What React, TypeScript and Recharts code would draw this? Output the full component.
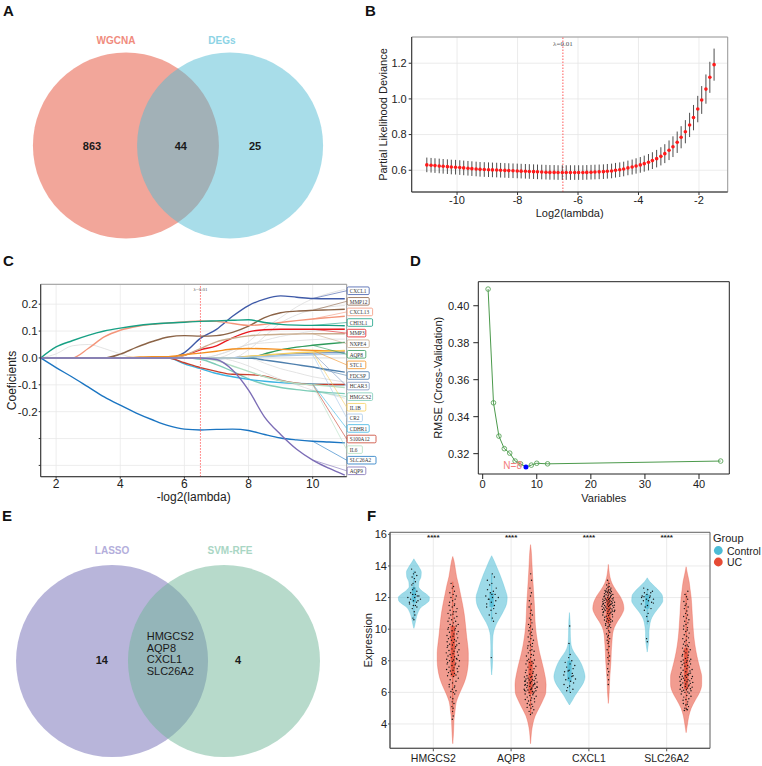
import React from 'react';
import {
  ScatterChart, Scatter, LineChart, Line, ComposedChart, Area,
  XAxis, YAxis, CartesianGrid, ReferenceLine, ReferenceDot, ReferenceArea, ErrorBar,
} from 'recharts';

const FONT = 'Arial, "Liberation Sans", Helvetica, sans-serif';
const SERIF = '"Liberation Serif", "DejaVu Serif", serif';

// ---------- A: WGCNA / DEGs overlap ----------
const vennASets = ['WGCNA', 'DEGs'];
const vennACounts = [863, 44, 25]; // WGCNA only, shared, DEGs only

// ---------- B: LASSO cross-validation ----------
const cvLog2Lambda = [
  -11.0, -10.86, -10.73, -10.59, -10.46, -10.32, -10.19, -10.05, -9.91, -9.78, -9.64, -9.51,
  -9.37, -9.24, -9.1, -8.96, -8.83, -8.69, -8.56, -8.42, -8.29, -8.15, -8.01, -7.88,
  -7.74, -7.61, -7.47, -7.34, -7.2, -7.06, -6.93, -6.79, -6.66, -6.52, -6.39, -6.25,
  -6.11, -5.98, -5.84, -5.71, -5.57, -5.44, -5.3, -5.16, -5.03, -4.89, -4.76, -4.62,
  -4.49, -4.35, -4.21, -4.08, -3.94, -3.81, -3.67, -3.54, -3.4, -3.26, -3.13, -2.99,
  -2.86, -2.72, -2.59, -2.45, -2.31, -2.18, -2.04, -1.91, -1.77, -1.64, -1.5,
];
const cvDeviance = [
  0.63, 0.628, 0.626, 0.624, 0.622, 0.62, 0.618, 0.617, 0.615, 0.613, 0.611, 0.609,
  0.607, 0.605, 0.604, 0.603, 0.602, 0.601, 0.6, 0.599, 0.598, 0.597, 0.596, 0.595,
  0.594, 0.593, 0.592, 0.591, 0.59, 0.589, 0.588, 0.588, 0.587, 0.587, 0.587, 0.587,
  0.587, 0.587, 0.587, 0.588, 0.589, 0.59, 0.591, 0.592, 0.594, 0.596, 0.6, 0.603,
  0.607, 0.613, 0.618, 0.624, 0.63, 0.637, 0.645, 0.654, 0.665, 0.678, 0.693, 0.712,
  0.732, 0.757, 0.785, 0.816, 0.854, 0.895, 0.943, 0.994, 1.055, 1.121, 1.192,
];
const cvDevianceSd = [
  0.041, 0.041, 0.041, 0.041, 0.041, 0.041, 0.041, 0.041, 0.041, 0.041, 0.041, 0.041,
  0.041, 0.041, 0.041, 0.041, 0.041, 0.041, 0.041, 0.041, 0.041, 0.041, 0.041, 0.041,
  0.041, 0.041, 0.041, 0.041, 0.041, 0.041, 0.041, 0.041, 0.041, 0.041, 0.041, 0.041,
  0.041, 0.041, 0.041, 0.041, 0.041, 0.041, 0.041, 0.041, 0.041, 0.041, 0.041, 0.041,
  0.041, 0.041, 0.042, 0.043, 0.044, 0.045, 0.046, 0.047, 0.049, 0.051, 0.053, 0.055,
  0.058, 0.06, 0.062, 0.065, 0.068, 0.071, 0.074, 0.078, 0.082, 0.087, 0.09,
];

// ---------- C: LASSO coefficient paths ----------
const pathX = [1.52, 2, 2.5, 3, 3.5, 4, 4.5, 5, 5.5, 6, 6.5, 7, 7.5, 8, 8.5, 9, 9.5, 10, 10.5, 11];
const pathGenes = ['CXCL1', 'MMP12', 'CXCL13', 'CHI3L1', 'MMP3', 'NXPE4', 'AQP8', 'STC1', 'FDCSP',
  'HCAR3', 'HMGCS2', 'IL1B', 'CR2', 'CDHR1', 'S100A12', 'IL6', 'SLC26A2', 'AQP9'];
const coefCXCL1 = [0, 0, 0, 0, 0, 0, 0, 0, 0, 0.02, 0.073, 0.106, 0.155, 0.195, 0.219, 0.231, 0.226, 0.221, 0.22, 0.22];
const coefMMP12 = [0, 0, 0, 0, 0, 0.014, 0.039, 0.061, 0.078, 0.083, 0.081, 0.083, 0.095, 0.118, 0.15, 0.168, 0.174, 0.177, 0.179, 0.181];
const coefCXCL13 = [0, 0, 0, 0.035, 0.078, 0.103, 0.117, 0.125, 0.13, 0.134, 0.138, 0.136, 0.128, 0.121, 0.125, 0.132, 0.139, 0.145, 0.15, 0.155];
const coefCHI3L1 = [0, 0.041, 0.064, 0.084, 0.1, 0.111, 0.12, 0.126, 0.13, 0.133, 0.136, 0.138, 0.14, 0.142, 0.132, 0.125, 0.122, 0.121, 0.121, 0.12];
const coefMMP3 = [0, 0, 0, 0, 0, 0, 0, 0, 0, 0.01, 0.03, 0.045, 0.075, 0.097, 0.105, 0.107, 0.107, 0.107, 0.107, 0.107];
const coefNXPE4 = [0, 0, 0, 0, 0, 0, 0, 0, 0, 0.01, 0.035, 0.06, 0.073, 0.082, 0.086, 0.088, 0.089, 0.09, 0.09, 0.09];
const coefAQP8 = [0, 0, 0, 0, 0, 0, 0, 0, 0, 0, 0, 0, 0, 0, 0.015, 0.03, 0.04, 0.047, 0.053, 0.058];
const coefSTC1 = [0, 0, 0, 0, 0, 0, 0.003, 0.005, 0.005, 0.012, 0.018, 0.025, 0.033, 0.035, 0.034, 0.032, 0.03, 0.028, 0.027, 0.026];
const coefFDCSP = [0, 0, 0, 0, 0, 0, 0, 0, 0, 0, 0, 0, 0, 0, -0.008, -0.016, -0.025, -0.034, -0.044, -0.053];
const coefHCAR3 = [0, 0, 0, 0, 0, 0, 0, 0, 0, 0, -0.002, -0.003, 0, 0.005, 0.01, 0.013, 0.016, 0.018, 0.02, 0.02];
const coefHMGCS2 = [0, 0, 0, 0, 0, 0, 0, 0, 0, 0, -0.005, -0.025, -0.05, -0.078, -0.098, -0.11, -0.118, -0.124, -0.129, -0.133];
const coefIL1B = [0, 0, 0, 0, 0, 0, 0, 0, 0, 0, 0, 0, 0, 0.006, 0.01, 0.015, 0.019, 0.022, 0.025, 0.028];
const coefCR2 = [0, 0, 0, 0, 0, 0, 0, 0, 0, 0, 0, 0, 0, 0.003, 0.005, 0.008, 0.01, 0.012, 0.014, 0.015];
const coefCDHR1 = [0, 0, 0, 0, 0, 0, 0, 0, 0, -0.022, -0.04, -0.058, -0.07, -0.08, -0.087, -0.092, -0.095, -0.097, -0.099, -0.1];
const coefS100A12 = [0, 0, 0, 0, 0, 0, 0, 0, 0, -0.018, -0.036, -0.05, -0.061, -0.062, -0.068, -0.084, -0.094, -0.099, -0.099, -0.099];
const coefIL6 = [0, 0, 0, 0, 0, 0, 0, 0, 0, 0, 0, -0.01, -0.03, -0.05, -0.07, -0.085, -0.095, -0.1, -0.105, -0.11];
const coefSLC26A2 = [0, -0.036, -0.071, -0.108, -0.145, -0.176, -0.205, -0.23, -0.252, -0.265, -0.268, -0.266, -0.265, -0.27, -0.285, -0.298, -0.305, -0.31, -0.313, -0.316];
const coefAQP9 = [0, 0, 0, 0, 0, 0, 0, 0, 0, 0, 0, -0.006, -0.045, -0.12, -0.22, -0.285, -0.34, -0.38, -0.41, -0.436];
// genes without a tag
const coefOther1 = [0, 0.015, 0.045, 0.05, 0.035, 0.015, 0, 0, 0, 0, 0, 0, 0, 0, 0, 0, 0, 0, 0, 0];
const coefOther2 = [0, 0, 0, 0, 0, 0, 0, 0, 0, 0, 0, 0, 0.02, 0.06, 0.11, 0.15, 0.19, 0.22, 0.24, 0.255];
const coefOther3 = [0, 0, 0, 0, 0, 0, 0, 0, 0, 0, 0, 0, 0, 0.03, 0.08, 0.13, 0.16, 0.18, 0.19, 0.195];
const coefOther4 = [0, 0, 0, 0, 0, 0, 0, 0, 0, 0, 0, 0.01, 0.03, 0.05, 0.056, 0.06, 0.064, 0.068, 0.07, 0.07];
const coefOther5 = [0, 0, 0, 0, 0, 0, 0, 0, 0, 0, 0, 0, -0.01, -0.03, -0.055, -0.08, -0.1, -0.12, -0.135, -0.15];
const coefOther6 = [0, 0, 0, 0, 0, 0, 0, 0, 0, 0, 0, 0, 0, 0, -0.02, -0.04, -0.055, -0.07, -0.08, -0.09];
const coefOther7 = [0, 0, 0, 0, 0, 0, 0, 0, 0, 0, 0, 0.01, 0.03, 0.05, 0.065, 0.08, 0.09, 0.1, 0.105, 0.11];

// ---------- D: SVM-RFE ----------
const rfeVariables = [1, 2, 3, 4, 5, 6, 7, 8, 9, 10, 12, 44];
const rfeRmse = [0.409, 0.3475, 0.3295, 0.3227, 0.3203, 0.316, 0.3145, 0.3128, 0.3138, 0.3148, 0.3145, 0.316];
const rfeBest = 8;

// ---------- E: LASSO / SVM-RFE overlap ----------
const vennESets = ['LASSO', 'SVM-RFE'];
const vennECounts = [14, 4];
const vennEShared = ['HMGCS2', 'AQP8', 'CXCL1', 'SLC26A2'];

// ---------- F: expression of the four hub genes ----------
const hubGenes = ['HMGCS2', 'AQP8', 'CXCL1', 'SLC26A2'];
const groups = ['Control', 'UC'];
// [expression, density]
const violinHMGCS2Ctrl = [[14.45, 0], [14.2, 7], [13.9, 16], [13.6, 22], [13.3, 21], [13.0, 15], [12.7, 14], [12.4, 25], [12.2, 38], [12.0, 46], [11.8, 45], [11.6, 35], [11.4, 22], [11.1, 13], [10.8, 8], [10.5, 5], [10.2, 2], [10.05, 0]];
const violinHMGCS2UC = [[14.6, 0], [14.3, 4], [13.8, 8], [13.3, 12], [12.8, 18], [12.2, 24], [11.6, 30], [11.0, 35], [10.5, 38], [10.1, 40], [9.5, 43], [9.0, 46], [8.5, 48], [8.0, 48], [7.5, 46], [6.9, 40], [6.4, 31], [5.9, 20], [5.4, 11], [4.8, 7], [4.3, 4], [3.8, 3], [3.3, 2], [2.75, 0]];
const violinAQP8Ctrl = [[14.65, 0], [14.3, 8], [13.9, 16], [13.5, 24], [13.0, 33], [12.5, 41], [12.0, 47], [11.6, 45], [11.2, 37], [10.8, 27], [10.4, 16], [10.0, 8], [9.6, 4], [9.2, 3], [8.8, 2.5], [8.2, 3], [7.6, 2], [7.1, 0]];
const violinAQP8UC = [[15.35, 0], [15.0, 2], [14.3, 4], [13.5, 6], [12.5, 9], [11.5, 12], [10.5, 14], [10.0, 16], [9.5, 19], [9.0, 23], [8.5, 28], [8.0, 34], [7.5, 40], [7.0, 45], [6.5, 48], [6.0, 47], [5.5, 38], [5.0, 26], [4.5, 14], [4.0, 7], [3.5, 3], [3.0, 1], [2.75, 0]];
const violinCXCL1Ctrl = [[11.05, 0], [10.5, 2], [10.0, 2.5], [9.5, 3], [9.0, 5], [8.6, 12], [8.2, 25], [7.8, 36], [7.4, 43], [7.0, 47], [6.6, 42], [6.2, 30], [5.8, 17], [5.5, 9], [5.2, 0]];
const violinCXCL1UC = [[14.1, 0], [13.7, 2], [13.3, 5], [12.9, 11], [12.5, 22], [12.1, 35], [11.7, 44], [11.3, 47], [10.9, 40], [10.5, 28], [10.1, 18], [9.7, 13], [9.2, 11], [8.6, 9], [8.0, 8], [7.4, 6], [6.8, 4], [6.2, 3], [5.7, 1.5], [5.3, 0]];
const violinSLC26A2Ctrl = [[13.25, 0], [13.0, 8], [12.7, 22], [12.4, 36], [12.1, 45], [11.8, 46], [11.5, 39], [11.2, 28], [10.9, 18], [10.6, 11], [10.2, 7], [9.8, 5], [9.4, 5], [9.0, 3], [8.55, 0]];
const violinSLC26A2UC = [[13.95, 0], [13.5, 4], [13.0, 9], [12.5, 12], [12.0, 15], [11.0, 18], [10.0, 21], [9.5, 23], [9.0, 26], [8.5, 30], [8.0, 35], [7.5, 41], [7.0, 46], [6.5, 46], [6.0, 40], [5.5, 27], [5.0, 15], [4.5, 8], [4.0, 4], [3.45, 0]];
// [q1, q3, lower whisker, upper whisker]
const boxCtrl = [[11.7, 12.65, 10.6, 13.7], [11.4, 12.3, 10.5, 13.5], [6.7, 8.0, 6.0, 9.1], [11.3, 12.2, 10.3, 12.6]];
const boxUC = [[7.0, 10.2, 4.6, 13.0], [5.9, 8.0, 4.6, 11.6], [10.4, 12.0, 8.0, 13.1], [6.2, 8.8, 4.8, 12.3]];
// sample expression values
const samplesHMGCS2Ctrl = [13.8, 13.6, 13.5, 13.4, 13.3, 13.2, 13.0, 12.8, 12.6, 12.5, 12.4, 12.3, 12.2, 12.2, 12.1, 12.0, 12.0, 11.9, 11.9, 11.8, 11.8, 11.7, 11.7, 11.6, 11.5, 11.5, 11.4, 11.3, 11.1, 10.9, 10.7, 10.6, 12.9, 12.1];
const samplesHMGCS2UC = [12.9, 12.7, 12.6, 12.4, 12.3, 12.2, 12.1, 12.0, 11.9, 11.8, 11.7, 11.6, 11.5, 11.5, 11.4, 11.3, 11.2, 11.1, 11.1, 11.0,
  10.95, 10.9, 10.8, 10.7, 10.7, 10.6, 10.5, 10.5, 10.4, 10.3, 10.3, 10.2, 10.2, 10.1, 10.05, 10.0,
  9.95, 9.9, 9.85, 9.8, 9.7, 9.7, 9.6, 9.55, 9.5, 9.45, 9.4, 9.35, 9.3, 9.25, 9.2, 9.15, 9.1, 9.05, 9.0, 9.0,
  8.95, 8.9, 8.85, 8.8, 8.75, 8.7, 8.65, 8.6, 8.55, 8.5, 8.45, 8.4, 8.35, 8.3, 8.25, 8.2, 8.15, 8.1, 8.05, 8.0, 8.0, 8.1,
  7.95, 7.9, 7.85, 7.8, 7.75, 7.7, 7.65, 7.6, 7.55, 7.5, 7.45, 7.4, 7.35, 7.3, 7.25, 7.2, 7.15, 7.1, 7.05, 7.0,
  6.9, 6.8, 6.7, 6.6, 6.5, 6.4, 6.35, 6.3, 6.2, 6.1, 6.05, 6.0, 5.9, 5.7, 5.6, 5.4, 5.3, 5.1, 5.0, 4.8, 4.5, 4.3];
const samplesAQP8Ctrl = [13.5, 13.3, 13.1, 12.9, 12.8, 12.6, 12.5, 12.4, 12.3, 12.2, 12.1, 12.0, 12.0, 11.9, 11.8, 11.7, 11.6, 11.5, 11.4, 11.3, 11.2, 11.0, 10.9, 10.7, 10.5, 8.2, 12.2, 11.9];
const samplesAQP8UC = [13.5, 13.1, 12.6, 12.3, 12.1, 11.8, 11.6, 11.4, 11.2, 11.0, 10.9, 10.7, 10.6, 10.4, 10.3, 10.2, 10.1, 10.0,
  9.9, 9.8, 9.7, 9.6, 9.5, 9.4, 9.3, 9.2, 9.1, 9.0, 8.95, 8.9, 8.8, 8.7, 8.65, 8.6, 8.5, 8.4, 8.35, 8.3, 8.2, 8.1, 8.05, 8.0,
  7.95, 7.9, 7.85, 7.8, 7.7, 7.65, 7.6, 7.5, 7.45, 7.4, 7.3, 7.25, 7.2, 7.15, 7.1, 7.05, 7.0, 7.0,
  6.98, 6.95, 6.9, 6.88, 6.85, 6.8, 6.78, 6.75, 6.7, 6.68, 6.65, 6.6, 6.58, 6.55, 6.5, 6.48, 6.45, 6.4, 6.38, 6.35,
  6.3, 6.28, 6.25, 6.2, 6.18, 6.15, 6.1, 6.08, 6.05, 6.0, 6.02, 6.12, 6.22, 6.32, 6.42, 6.52, 6.62, 6.72,
  5.95, 5.9, 5.85, 5.8, 5.75, 5.7, 5.65, 5.6, 5.55, 5.5, 5.45, 5.4, 5.3, 5.25, 5.2, 5.1, 5.05, 5.0, 4.9, 4.8, 4.7, 4.6];
const samplesCXCL1Ctrl = [10.2, 9.1, 8.4, 8.2, 8.0, 7.9, 7.8, 7.7, 7.6, 7.5, 7.4, 7.3, 7.2, 7.1, 7.0, 6.9, 6.85, 6.8, 6.7, 6.6, 6.5, 6.4, 6.3, 6.2, 6.1, 6.0, 7.35, 7.05];
const samplesCXCL1UC = [13.1, 12.9, 12.8, 12.7, 12.65, 12.6, 12.55, 12.5,
  12.48, 12.45, 12.42, 12.4, 12.38, 12.35, 12.32, 12.3, 12.28, 12.25, 12.22, 12.2, 12.18, 12.15, 12.12, 12.1, 12.08, 12.05, 12.02, 12.0,
  11.98, 11.96, 11.94, 11.92, 11.9, 11.88, 11.86, 11.84, 11.82, 11.8, 11.78, 11.76, 11.74, 11.72, 11.7, 11.68, 11.66, 11.64, 11.62, 11.6, 11.58, 11.56, 11.54, 11.52, 11.5, 11.51,
  11.48, 11.45, 11.43, 11.4, 11.38, 11.35, 11.33, 11.3, 11.28, 11.25, 11.23, 11.2, 11.18, 11.15, 11.13, 11.1, 11.08, 11.05, 11.03, 11.0, 11.12, 11.27,
  10.97, 10.93, 10.9, 10.86, 10.82, 10.78, 10.75, 10.7, 10.66, 10.62, 10.58, 10.55, 10.52, 10.5,
  10.45, 10.4, 10.35, 10.3, 10.25, 10.2, 10.15, 10.1, 10.05, 9.9, 9.8, 9.7, 9.6, 9.5, 9.4, 9.3, 9.2, 9.1,
  8.9, 8.7, 8.5, 8.3, 8.2, 8.0, 7.8, 7.5, 7.3, 7.1, 6.8, 6.5];
const samplesSLC26A2Ctrl = [12.6, 12.5, 12.4, 12.3, 12.3, 12.2, 12.1, 12.1, 12.0, 12.0, 11.9, 11.9, 11.8, 11.8, 11.7, 11.6, 11.5, 11.4, 11.3, 11.2, 11.0, 10.8, 10.5, 9.4, 9.2, 11.65, 12.05];
const samplesSLC26A2UC = [12.4, 12.2, 12.05, 11.9, 11.75, 11.6, 11.5, 11.4, 11.3, 11.15, 11.0,
  10.9, 10.8, 10.7, 10.6, 10.5, 10.4, 10.3, 10.2, 10.1, 10.0,
  9.95, 9.85, 9.75, 9.65, 9.55, 9.45, 9.4, 9.3, 9.2, 9.15, 9.05, 9.0,
  8.95, 8.9, 8.8, 8.75, 8.7, 8.6, 8.55, 8.5, 8.4, 8.35, 8.3, 8.2, 8.15, 8.1, 8.05, 8.0,
  7.98, 7.95, 7.9, 7.85, 7.8, 7.75, 7.7, 7.65, 7.6, 7.55, 7.5, 7.45, 7.4, 7.35, 7.3, 7.25, 7.2, 7.15, 7.1, 7.05, 7.0, 7.02, 7.12, 7.22,
  6.98, 6.95, 6.9, 6.87, 6.83, 6.8, 6.77, 6.73, 6.7, 6.67, 6.63, 6.6, 6.57, 6.53, 6.5, 6.47, 6.43, 6.4, 6.37, 6.33,
  6.3, 6.27, 6.23, 6.2, 6.17, 6.13, 6.1, 6.07, 6.03, 6.0,
  5.95, 5.9, 5.8, 5.75, 5.7, 5.6, 5.55, 5.5, 5.4, 5.3, 5.25, 5.2, 5.1, 5.0, 4.95, 4.9, 4.85];
const significance = ['****', '****', '****', '****'];

// ---------------------------------------------------------------------------

const vTitle = (text: string, dx: number, size = 11) => (props: any) => {
  const vb = props.viewBox || { x: 0, y: 0, width: 0, height: 0 };
  const x = vb.x + dx;
  const y = vb.y + vb.height / 2;
  return (
    <text x={x} y={y} transform={`rotate(-90 ${x} ${y})`} textAnchor="middle" dominantBaseline="central"
      fontSize={size} fontFamily={FONT} fill="#222">{text}</text>
  );
};
const hTitle = (text: string, dy: number, size = 11) => (props: any) => {
  const vb = props.viewBox || { x: 0, y: 0, width: 0, height: 0 };
  return (
    <text x={vb.x + vb.width / 2} y={vb.y + dy} textAnchor="middle" dominantBaseline="central"
      fontSize={size} fontFamily={FONT} fill="#222">{text}</text>
  );
};
const lambdaTag = (size: number, dy: number) => (props: any) => {
  const vb = props.viewBox || { x: 0, y: 0 };
  return (
    <text x={vb.x} y={vb.y + dy} textAnchor="middle" dominantBaseline="central" fontSize={size}
      fontFamily={SERIF} fill="#555">λ=0.01</text>
  );
};
const textShape = (size: number, weight: any, color: string, anchor = 'middle') => (p: any) => (
  <text x={p.cx} y={p.cy} textAnchor={anchor} dominantBaseline="central" fontSize={size}
    fontWeight={weight} fill={p.payload.color || color} fontFamily={FONT}>{p.payload.label}</text>
);

function PanelLetter({ ch, left, top }: { ch: string; left: number; top: number }) {
  return (
    <div style={{ position: 'absolute', left, top: top - 2, fontFamily: FONT, fontWeight: 'bold', fontSize: 15, lineHeight: '15px', color: '#111' }}>{ch}</div>
  );
}

// ---------- Venn diagrams ----------
function VennA() {
  const xd: [number, number] = [-1.914, 2.172];
  const yd: [number, number] = [-1.124, 1.565];
  const w = 380, h = 250;
  const unit = w / (xd[1] - xd[0]);
  const circle = (color: string) => (p: any) => <circle cx={p.cx} cy={p.cy} r={unit} fill={color} fillOpacity={0.5} />;
  const setLabels = vennASets.map((label, i) => ({ x: [-0.667, 0.473][i], y: 1.134, label, color: ['#F08B7D', '#8CD3E5'][i] }));
  const counts = vennACounts.map((v, i) => ({ x: [-0.925, 0.03, 0.828][i], y: 0, label: String(v) }));
  return (
    <ScatterChart width={w} height={h} margin={{ top: 0, right: 0, bottom: 0, left: 0 }}>
      <XAxis type="number" dataKey="x" domain={xd} hide />
      <YAxis type="number" dataKey="y" domain={yd} hide />
      <Scatter data={[{ x: -0.56, y: 0 }]} shape={circle('#E54D35')} isAnimationActive={false} />
      <Scatter data={[{ x: 0.56, y: 0 }]} shape={circle('#51BBD3')} isAnimationActive={false} />
      <Scatter data={setLabels} shape={textShape(10, 'bold', '#000')} isAnimationActive={false} />
      <Scatter data={counts} shape={textShape(11, 'bold', '#1a1a1a')} isAnimationActive={false} />
    </ScatterChart>
  );
}

function VennE() {
  const xd: [number, number] = [-1.75, 2.208];
  const yd: [number, number] = [-1.094, 1.677];
  const w = 380, h = 266;
  const unit = w / (xd[1] - xd[0]);
  const circle = (color: string) => (p: any) => <circle cx={p.cx} cy={p.cy} r={unit} fill={color} fillOpacity={0.5} />;
  const setLabels = vennESets.map((label, i) => ({ x: [-0.583, 0.646][i], y: 1.156, label, color: ['#B3AEDB', '#A9D6C4'][i] }));
  const counts = vennECounts.map((v, i) => ({ x: [-0.69, 0.729][i], y: 0.01, label: String(v) }));
  const shared = vennEShared.map((label, i) => ({ x: -0.222, y: 0.26 - i * 0.12, label }));
  return (
    <ScatterChart width={w} height={h} margin={{ top: 0, right: 0, bottom: 0, left: 0 }}>
      <XAxis type="number" dataKey="x" domain={xd} hide />
      <YAxis type="number" dataKey="y" domain={yd} hide />
      <Scatter data={[{ x: -0.583, y: 0 }]} shape={circle('#716BB5')} isAnimationActive={false} />
      <Scatter data={[{ x: 0.583, y: 0 }]} shape={circle('#6FB597')} isAnimationActive={false} />
      <Scatter data={setLabels} shape={textShape(10, 'bold', '#000')} isAnimationActive={false} />
      <Scatter data={counts} shape={textShape(11, 'bold', '#1a1a1a')} isAnimationActive={false} />
      <Scatter data={shared} shape={textShape(11, 'normal', '#1a1a1a', 'start')} isAnimationActive={false} />
    </ScatterChart>
  );
}

// ---------- B ----------
function PanelB() {
  const rows = cvLog2Lambda.map((x, i) => ({ x, y: cvDeviance[i], sd: cvDevianceSd[i] }));
  const xd: [number, number] = [-11.5, -1.05];
  const yd: [number, number] = [0.478, 1.347];
  return (
    <ScatterChart width={370} height={210} margin={{ top: 17, right: 12.3, bottom: 0, left: 0 }}>
      <CartesianGrid stroke="#e6e6e6" strokeWidth={0.8} />
      <ReferenceArea x1={xd[0]} x2={xd[1]} y1={yd[0]} y2={yd[1]} fill="none" stroke="#9a9a9a" strokeWidth={1} />
      <XAxis type="number" dataKey="x" domain={xd} ticks={[-10, -8, -6, -4, -2]} height={38}
        tick={{ fontSize: 11, fill: '#222', fontFamily: FONT }} tickSize={3} tickMargin={1}
        axisLine={{ stroke: '#333' }} tickLine={{ stroke: '#333' }} label={hTitle('Log2(lambda)', 20.5)} />
      <YAxis type="number" dataKey="y" domain={yd} ticks={[0.6, 0.8, 1.0, 1.2]} width={41.7}
        tickFormatter={(v: number) => v.toFixed(1)} tick={{ fontSize: 11, fill: '#222', fontFamily: FONT }}
        tickSize={3} tickMargin={2} axisLine={{ stroke: '#333' }} tickLine={{ stroke: '#333' }}
        label={vTitle('Partial Likelihood Deviance', 13)} />
      <ReferenceLine x={-6.5} stroke="#ff5a5a" strokeDasharray="1.5 1.5" strokeWidth={1} label={lambdaTag(7, 7)} />
      <Scatter data={rows} isAnimationActive={false}
        shape={(p: any) => <circle cx={p.cx} cy={p.cy} r={1.8} fill="#ff1a1a" />}>
        <ErrorBar dataKey="sd" direction="y" width={0} stroke="#3a3a3a" strokeWidth={0.9} />
      </Scatter>
    </ScatterChart>
  );
}

// ---------- C ----------
const pathSeries: { key: string; values: number[]; color: string }[] = [
  { key: 'CXCL1', values: coefCXCL1, color: '#3F5AA8' },
  { key: 'MMP12', values: coefMMP12, color: '#8B6346' },
  { key: 'CXCL13', values: coefCXCL13, color: '#F4957A' },
  { key: 'CHI3L1', values: coefCHI3L1, color: '#17A084' },
  { key: 'MMP3', values: coefMMP3, color: '#E8191E' },
  { key: 'NXPE4', values: coefNXPE4, color: '#C9AC8E' },
  { key: 'AQP8', values: coefAQP8, color: '#2E9A5A' },
  { key: 'STC1', values: coefSTC1, color: '#F39021' },
  { key: 'FDCSP', values: coefFDCSP, color: '#4E7FAD' },
  { key: 'HCAR3', values: coefHCAR3, color: '#7D97C2' },
  { key: 'HMGCS2', values: coefHMGCS2, color: '#7ECDB8' },
  { key: 'IL1B', values: coefIL1B, color: '#F6CF60' },
  { key: 'CR2', values: coefCR2, color: '#A7C8E8' },
  { key: 'CDHR1', values: coefCDHR1, color: '#3CB4E3' },
  { key: 'S100A12', values: coefS100A12, color: '#C8402E' },
  { key: 'IL6', values: coefIL6, color: '#B3DFC3' },
  { key: 'SLC26A2', values: coefSLC26A2, color: '#1B75C2' },
  { key: 'AQP9', values: coefAQP9, color: '#7C6DB6' },
];
const otherSeries = [coefOther1, coefOther2, coefOther3, coefOther4, coefOther5, coefOther6, coefOther7];

function PanelC() {
  const xd: [number, number] = [1.52, 11.06];
  const yd: [number, number] = [-0.442, 0.274];
  const rows = pathX.map((x, i) => {
    const r: any = { x };
    pathSeries.forEach((s) => { r[s.key] = s.values[i]; });
    otherSeries.forEach((s, j) => { r['other' + j] = s[i]; });
    return r;
  });
  const tagTop = 0.25, tagBottom = -0.42;
  const tagStep = (tagTop - tagBottom) / (pathGenes.length - 1);
  const at10 = pathX.indexOf(10);
  return (
    <LineChart width={380} height={240} data={rows} margin={{ top: 19.3, right: 33.3, bottom: 0, left: 0 }}>
      <CartesianGrid stroke="#e8e8e8" strokeWidth={0.8} />
      <ReferenceArea x1={xd[0]} x2={xd[1]} y1={yd[0]} y2={yd[1]} fill="none" stroke="#9a9a9a" strokeWidth={1} />
      <XAxis type="number" dataKey="x" domain={xd} ticks={[2, 4, 6, 8, 10]} height={28.3}
        tick={{ fontSize: 12, fill: '#222', fontFamily: FONT }} tickSize={2} tickMargin={1}
        axisLine={{ stroke: '#333' }} tickLine={{ stroke: '#333' }} label={hTitle('-log2(lambda)', 20.6, 12)} />
      <YAxis type="number" domain={yd} ticks={[0.2, 0.1, 0, -0.1, -0.2, -0.3, -0.4]} width={40.7}
        tickFormatter={(v: number) => (v < -0.25 ? '' : v.toFixed(1))}
        tick={{ fontSize: 11.5, fill: '#222', fontFamily: FONT }} tickSize={2} tickMargin={1}
        axisLine={{ stroke: '#333' }} tickLine={{ stroke: '#333' }} label={vTitle('Coeficients', 11.7, 12)} />
      {otherSeries.map((_, j) => (
        <Line key={'o' + j} dataKey={'other' + j} type="monotone" dot={false} stroke="#dcdcdc" strokeWidth={0.8} isAnimationActive={false} />
      ))}
      {pathSeries.map((s) => (
        <Line key={s.key} dataKey={s.key} type="monotone" dot={false} stroke={s.color} strokeWidth={1.4} isAnimationActive={false} />
      ))}
      <ReferenceLine x={6.5} stroke="#ff5a5a" strokeDasharray="1.5 1.5" strokeWidth={0.9} label={lambdaTag(5, 5)} />
      {pathSeries.map((s, i) => (
        <ReferenceLine key={'c' + s.key} ifOverflow="visible" stroke={s.color} strokeWidth={0.6}
          segment={[{ x: 10, y: s.values[at10] }, { x: xd[1], y: tagTop - i * tagStep }]} />
      ))}
      {pathSeries.map((s, i) => (
        <ReferenceDot key={'t' + s.key} x={xd[1]} y={tagTop - i * tagStep} ifOverflow="visible"
          shape={(p: any) => {
            const w = s.key.length * 3.4 + 5;
            return (
              <g>
                <rect x={p.cx + 0.5} y={p.cy - 3.8} width={w} height={7.6} rx={1.2} fill="#fff" stroke={s.color} strokeWidth={0.8} />
                <text x={p.cx + 3} y={p.cy + 0.3} dominantBaseline="central" fontSize={5.3} fontFamily={SERIF} fill="#333">{s.key}</text>
              </g>
            );
          }} />
      ))}
    </LineChart>
  );
}

// ---------- D ----------
function PanelD() {
  const rows = rfeVariables.map((n, i) => ({ n, rmse: rfeRmse[i] }));
  const xd: [number, number] = [-0.81, 45.6];
  const yd: [number, number] = [0.309, 0.413];
  const dot = (p: any) => {
    if (p.payload.n === rfeBest) {
      return (
        <g key={'d' + p.index}>
          <circle cx={p.cx} cy={p.cy} r={2.5} fill="#0000ff" />
          <text x={p.cx - 4} y={p.cy - 1} textAnchor="end" dominantBaseline="central" fontSize={10} fontFamily={FONT} fill="#F27D7D">N={rfeBest}</text>
        </g>
      );
    }
    return <circle key={'d' + p.index} cx={p.cx} cy={p.cy} r={2.3} fill="none" stroke="#5AA55A" strokeWidth={0.9} />;
  };
  return (
    <LineChart width={310} height={240} data={rows} margin={{ top: 16.7, right: 10.7, bottom: 0, left: 0 }}>
      <ReferenceArea x1={xd[0]} x2={xd[1]} y1={yd[0]} y2={yd[1]} fill="none" stroke="#222" strokeWidth={1} />
      <XAxis type="number" dataKey="n" domain={xd} ticks={[0, 10, 20, 30, 40]} height={31}
        tick={{ fontSize: 11, fill: '#222', fontFamily: FONT }} tickSize={5} tickMargin={1}
        axisLine={false} tickLine={{ stroke: '#222' }} label={hTitle('Variables', 24.3)} />
      <YAxis type="number" domain={yd} ticks={[0.32, 0.34, 0.36, 0.38, 0.4]} width={48.3}
        tickFormatter={(v: number) => v.toFixed(2)} tick={{ fontSize: 11, fill: '#222', fontFamily: FONT }}
        tickSize={5} tickMargin={4} axisLine={false} tickLine={{ stroke: '#222' }}
        label={vTitle('RMSE (Cross-Validation)', 8.3)} />
      <Line dataKey="rmse" type="linear" stroke="#4C9A4C" strokeWidth={1} dot={dot} activeDot={false} isAnimationActive={false} />
    </LineChart>
  );
}

// ---------- F ----------
const JITTER = [-0.82, 0.35, -0.12, 0.9, -0.55, 0.18, 0.66, -0.93, 0.04, -0.38, 0.78, -0.68, 0.27, -0.2, 0.52, -0.86, 0.12, 0.95, -0.47, 0.6, -0.05, -0.74, 0.43];
const VIOLIN_HALF = 0.2;
const GROUP_OFFSET = 0.25;

function densityAt(profile: number[][], y: number) {
  for (let i = 0; i < profile.length - 1; i++) {
    const [y0, d0] = profile[i];
    const [y1, d1] = profile[i + 1];
    if ((y <= y0 && y >= y1) || (y >= y0 && y <= y1)) {
      const t = y1 === y0 ? 0 : (y - y0) / (y1 - y0);
      return d0 + t * (d1 - d0);
    }
  }
  return 0;
}

function PanelF() {
  const ctrlProfiles = [violinHMGCS2Ctrl, violinAQP8Ctrl, violinCXCL1Ctrl, violinSLC26A2Ctrl];
  const ucProfiles = [violinHMGCS2UC, violinAQP8UC, violinCXCL1UC, violinSLC26A2UC];
  const ctrlSamples = [samplesHMGCS2Ctrl, samplesAQP8Ctrl, samplesCXCL1Ctrl, samplesSLC26A2Ctrl];
  const ucSamples = [samplesHMGCS2UC, samplesAQP8UC, samplesCXCL1UC, samplesSLC26A2UC];
  const colors = { Control: '#4DBBD5', UC: '#E64B35' } as Record<string, string>;

  const violins: { key: string; color: string; data: any[] }[] = [];
  const dots: { x: number; y: number }[] = [];
  const boxes: { key: string; color: string; c: number; b: number[] }[] = [];
  hubGenes.forEach((g, gi) => {
    groups.forEach((grp, k) => {
      const c = gi + 1 + (k === 0 ? -GROUP_OFFSET : GROUP_OFFSET);
      const profile = k === 0 ? ctrlProfiles[gi] : ucProfiles[gi];
      const maxD = Math.max(...profile.map((p) => p[1]));
      violins.push({
        key: g + grp,
        color: colors[grp],
        data: profile.map(([y, d]) => ({ y, span: [c - (d / maxD) * VIOLIN_HALF, c + (d / maxD) * VIOLIN_HALF] })),
      });
      boxes.push({ key: g + grp, color: colors[grp], c, b: k === 0 ? boxCtrl[gi] : boxUC[gi] });
      const samples = k === 0 ? ctrlSamples[gi] : ucSamples[gi];
      samples.forEach((y, i) => {
        const hw = (densityAt(profile, y) / maxD) * VIOLIN_HALF;
        dots.push({ x: c + JITTER[(i + gi * 5 + k * 11) % JITTER.length] * 0.45 * hw, y });
      });
    });
  });
  const stars = significance.map((label, i) => ({ x: i + 1, y: 15.77, label }));
  const xd: [number, number] = [0.443, 4.557];
  const yd: [number, number] = [2.46, 16.13];

  return (
    <ComposedChart layout="vertical" width={422} height={251} margin={{ top: 17.3, right: 52, bottom: 0, left: 0 }}>
      <CartesianGrid stroke="#e6e6e6" strokeWidth={0.8} />
      <XAxis type="number" dataKey="x" domain={xd} ticks={[1, 2, 3, 4]} height={17.7}
        tickFormatter={(v: number) => hubGenes[v - 1]} tick={{ fontSize: 10.5, fill: '#222', fontFamily: FONT }}
        tickSize={3} tickMargin={3} axisLine={{ stroke: '#555' }} tickLine={{ stroke: '#555' }} />
      <YAxis type="number" dataKey="y" domain={yd} reversed ticks={[4, 6, 8, 10, 12, 14, 16]} width={50}
        tick={{ fontSize: 11, fill: '#222', fontFamily: FONT }} tickSize={2} tickMargin={1}
        axisLine={{ stroke: '#555' }} tickLine={{ stroke: '#555' }} label={vTitle('Expression', 28)} />
      <ReferenceArea x1={xd[0]} x2={xd[1]} y1={yd[0]} y2={yd[1]} fill="none" stroke="#666" strokeWidth={1} />
      {violins.map((v) => (
        <Area key={v.key} data={v.data} dataKey="span" type="monotone" fill={v.color} fillOpacity={0.55}
          stroke={v.color} strokeOpacity={0.5} strokeWidth={0.6} isAnimationActive={false} activeDot={false} dot={false} />
      ))}
      {boxes.map((b) => (
        <ReferenceLine key={'w' + b.key} segment={[{ x: b.c, y: b.b[2] }, { x: b.c, y: b.b[3] }]} stroke={b.color} strokeWidth={0.7} />
      ))}
      {boxes.map((b) => (
        <ReferenceArea key={'b' + b.key} x1={b.c - 0.028} x2={b.c + 0.028} y1={b.b[0]} y2={b.b[1]} fill={b.color} fillOpacity={0.75} stroke="none" />
      ))}
      <Scatter data={dots} isAnimationActive={false} shape={(p: any) => <circle cx={p.cx} cy={p.cy} r={0.7} fill="#111" />} />
      <Scatter data={stars} isAnimationActive={false} shape={textShape(8, 'bold', '#222')} />
    </ComposedChart>
  );
}

function LegendF() {
  return (
    <svg style={{ position: 'absolute', left: 705, top: 525 }} width={57} height={45}>
      <text x={8} y={12.5} fontSize={11} fontFamily={FONT} fill="#222" dominantBaseline="central">Group</text>
      <circle cx={13.3} cy={25.5} r={4.4} fill="#4DBBD5" />
      <text x={22} y={25.5} fontSize={10.5} fontFamily={FONT} fill="#222" dominantBaseline="central">Control</text>
      <circle cx={13.3} cy={37} r={4.4} fill="#E64B35" />
      <text x={22} y={37} fontSize={10.5} fontFamily={FONT} fill="#222" dominantBaseline="central">UC</text>
    </svg>
  );
}

export default function App() {
  return (
    <div style={{ position: 'absolute', left: 0, top: 0, width: 762, height: 766, background: '#fff', overflow: 'hidden', fontFamily: FONT }}>
      <div style={{ position: 'absolute', left: 0, top: 0 }}><VennA /></div>
      <div style={{ position: 'absolute', left: 370, top: 20 }}><PanelB /></div>
      <div style={{ position: 'absolute', left: 0, top: 265 }}><PanelC /></div>
      <div style={{ position: 'absolute', left: 430, top: 265 }}><PanelD /></div>
      <div style={{ position: 'absolute', left: 0, top: 500 }}><VennE /></div>
      <div style={{ position: 'absolute', left: 340, top: 515 }}><PanelF /></div>
      <LegendF />
      <PanelLetter ch="A" left={3} top={5} />
      <PanelLetter ch="B" left={365} top={5} />
      <PanelLetter ch="C" left={3} top={255} />
      <PanelLetter ch="D" left={410} top={255} />
      <PanelLetter ch="E" left={2} top={510} />
      <PanelLetter ch="F" left={367} top={510} />
    </div>
  );
}
